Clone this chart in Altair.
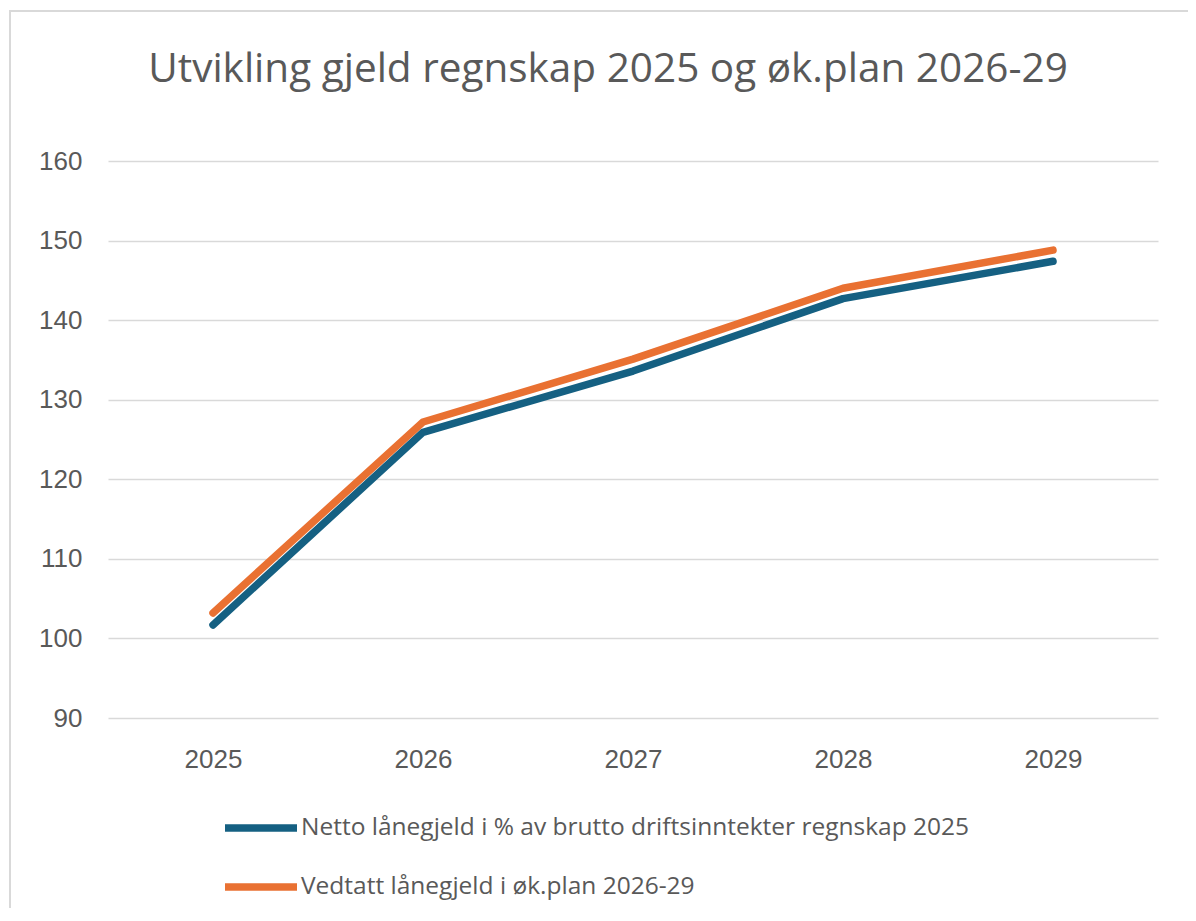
import altair as alt
import pandas as pd

years = ["2025", "2026", "2027", "2028", "2029"]
netto = [101.7, 125.9, 133.6, 142.7, 147.4]
vedtatt = [103.2, 127.2, 135.1, 144.0, 148.8]
series_names = [
    "Netto lånegjeld i % av brutto driftsinntekter regnskap 2025",
    "Vedtatt lånegjeld i øk.plan 2026-29",
]
series_colors = ["#156082", "#E97132"]
y_ticks = [90, 100, 110, 120, 130, 140, 150, 160]

rows = []
for name, vals in zip(series_names, [netto, vedtatt]):
    for yr, v in zip(years, vals):
        rows.append({"year": yr, "value": v, "series": name})
df = pd.DataFrame(rows)

FONT = "Liberation Sans"
TFONT = "Open Sans"
GREY = "#595959"

frame = alt.Chart(pd.DataFrame({"a": [0]})).mark_rect(
    fill="transparent", stroke="#d9d9d9", strokeWidth=2
).encode(
    x=alt.value(-98), x2=alt.value(1200), y=alt.value(-150), y2=alt.value(900)
)

lines = alt.Chart(df).mark_line(
    strokeWidth=7.5, strokeCap="round", strokeJoin="round"
).encode(
    x=alt.X("year:O", sort=years,
            scale=alt.Scale(paddingOuter=0.5, paddingInner=0),
            axis=alt.Axis(title=None, labelAngle=0, labelFontSize=26, labelColor=GREY,
                          labelFont=FONT, ticks=False, domain=False, labelPadding=28,
                          grid=False)),
    y=alt.Y("value:Q", scale=alt.Scale(domain=[90, 160], nice=False, zero=False),
            axis=alt.Axis(title=None, values=y_ticks, labelFontSize=26, labelColor=GREY,
                          labelFont=FONT, ticks=False, domain=False, labelPadding=26,
                          gridColor="#d9d9d9", gridWidth=1.5)),
    color=alt.Color("series:N",
                    scale=alt.Scale(domain=series_names, range=series_colors),
                    legend=alt.Legend(title=None, orient="none", legendX=113, legendY=656,
                                      direction="vertical", symbolType="stroke",
                                      symbolSize=5184, symbolStrokeWidth=7.5,
                                      clipHeight=22, rowPadding=34,
                                      labelFontSize=24.5, labelColor=GREY, labelFont=TFONT,
                                      labelOffset=0, labelLimit=900)),
)

chart = alt.layer(frame, lines).properties(
    width=1050,
    height=557,
    padding={"left": 100, "top": 153, "right": 30, "bottom": 190},
    autosize=alt.AutoSizeParams(type="none"),
    title=alt.TitleParams(
        "Utvikling gjeld regnskap 2025 og øk.plan 2026-29",
        fontSize=40.5, font=TFONT, fontWeight="normal", color=GREY,
        anchor="middle", offset=-80, dx=-25,
    ),
).configure_view(stroke=None)

chart.save("out.html", embed_options={"renderer": "svg", "actions": False})
